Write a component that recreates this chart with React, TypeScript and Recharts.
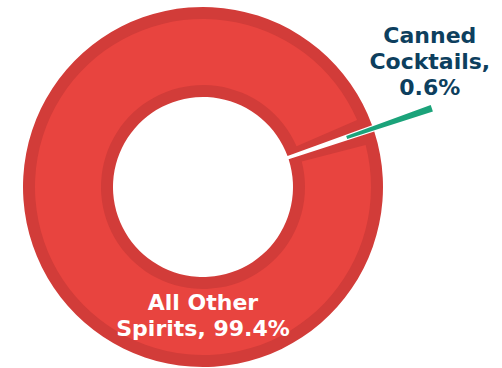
import { PieChart, Pie, Cell } from "recharts";

if (typeof document !== "undefined") {
  document.body.style.margin = "0";
}

const categories = ["Canned Cocktails", "All Other Spirits"];
const shares = [0.6, 99.4];
// max characters per label line, per category
const wrapWidths = [10, 14];

const fills = ["#1ba37a", "#e8443f"];
const borderColor = "#d23c39";
const labelColors = ["#0d3f5e", "#ffffff"];

const CX = 203;
const CY = 187;
const INNER = 90;
const OUTER = 180;
const BORDER = 12;
const EXPLODE = 62;

const slices = categories.map((name, i) => ({ name, value: shares[i] }));
const total = shares.reduce((a, b) => a + b, 0);
const smallSpan = (360 * shares[0]) / total;
const MID_SMALL = 19; // direction of the pulled out slice
const START = MID_SMALL - smallSpan / 2;

const rad = (d: number) => (d * Math.PI) / 180;
const ECX = CX + EXPLODE * Math.cos(rad(MID_SMALL));
const ECY = CY - EXPLODE * Math.sin(rad(MID_SMALL));

const wrap = (text: string, max: number) => {
  const lines: string[] = [];
  let cur = "";
  text.split(" ").forEach((w) => {
    if (cur && (cur + " " + w).length > max) {
      lines.push(cur);
      cur = w;
    } else {
      cur = cur ? cur + " " + w : w;
    }
  });
  if (cur) lines.push(cur);
  return lines;
};

const renderLabel = (props: any) => {
  const { index } = props;
  const s = slices[index];
  const lines = wrap(`${s.name}, ${s.value}%`, wrapWidths[index]);
  let x: number;
  let y: number;
  if (index === 0) {
    // above the end of the pulled out slice
    x = ECX + OUTER * Math.cos(rad(MID_SMALL)) - 2;
    y = ECY - OUTER * Math.sin(rad(MID_SMALL)) - 13 - (lines.length - 1) * 26;
  } else {
    x = CX;
    y = CY + 123;
  }
  return (
    <text
      key={`lbl-${index}`}
      x={x}
      y={y}
      textAnchor="middle"
      fill={labelColors[index]}
      fontFamily="'DejaVu Sans', Verdana, sans-serif"
      fontWeight="bold"
      fontSize={22}
    >
      {lines.map((l, i) => (
        <tspan key={i} x={x} dy={i === 0 ? 0 : 26}>
          {l}
        </tspan>
      ))}
    </text>
  );
};

const INSET = 3.4;

export default function App() {
  return (
    <PieChart width={502} height={368} margin={{ top: 0, right: 0, bottom: 0, left: 0 }}>
      {/* dark border ring */}
      <Pie
        data={slices}
        dataKey="value"
        cx={CX}
        cy={CY}
        innerRadius={INNER}
        outerRadius={OUTER}
        startAngle={START}
        endAngle={START + 360}
        stroke="none"
        isAnimationActive={false}
      >
        {slices.map((s, i) => (
          <Cell key={s.name} fill={i === 0 ? "transparent" : borderColor} />
        ))}
      </Pie>
      {/* lighter fill inside the border */}
      <Pie
        data={[slices[1]]}
        dataKey="value"
        cx={CX}
        cy={CY}
        innerRadius={INNER + BORDER}
        outerRadius={OUTER - BORDER}
        startAngle={START + smallSpan + INSET}
        endAngle={START + 360 - INSET}
        stroke="none"
        fill={fills[1]}
        isAnimationActive={false}
      />
      {/* pulled out small slice + labels */}
      <Pie
        data={slices}
        dataKey="value"
        cx={ECX}
        cy={ECY}
        innerRadius={INNER}
        outerRadius={OUTER}
        startAngle={START}
        endAngle={START + 360}
        stroke="none"
        label={renderLabel}
        labelLine={false}
        isAnimationActive={false}
      >
        {slices.map((s, i) => (
          <Cell key={s.name} fill={i === 0 ? fills[0] : "transparent"} />
        ))}
      </Pie>
    </PieChart>
  );
}
